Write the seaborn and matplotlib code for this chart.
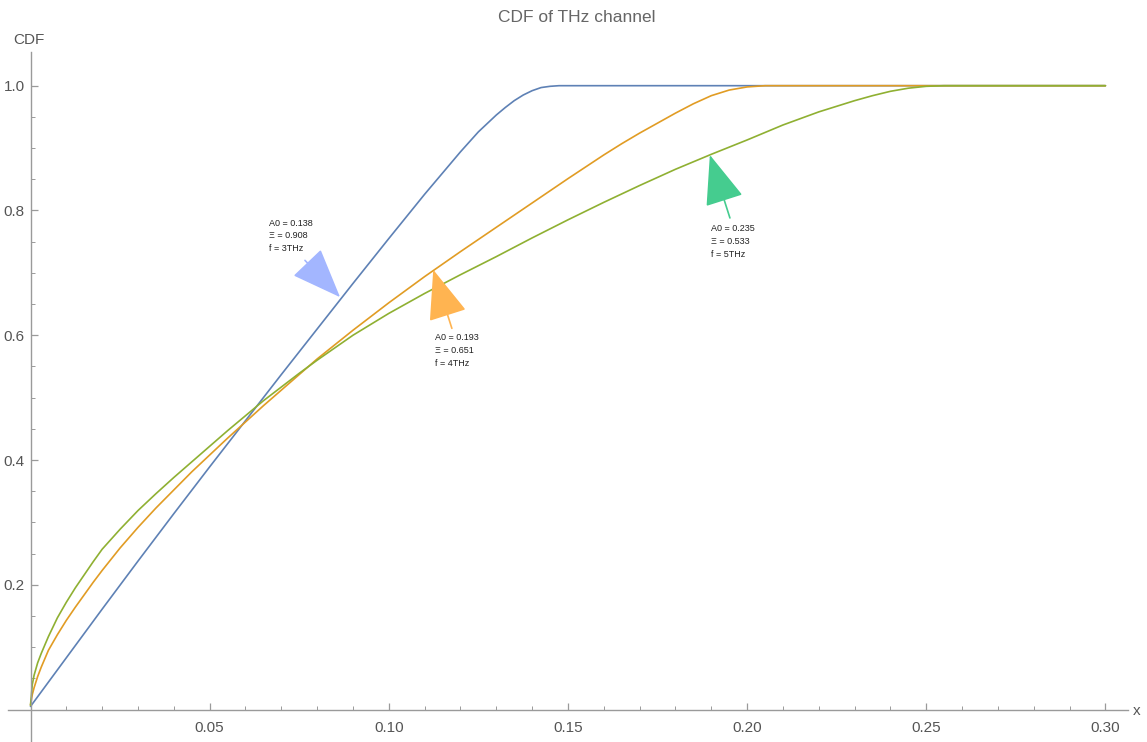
import pandas as pd
import seaborn as sns
import matplotlib.pyplot as plt

# CDF curves
x_3thz = [0, 0.01, 0.02, 0.03, 0.04, 0.05, 0.06, 0.07, 0.08, 0.09, 0.10, 0.11,
          0.12, 0.125, 0.13, 0.1325, 0.135, 0.1375, 0.14, 0.1425, 0.145, 0.1475, 0.30]
cdf_3thz = [0.005, 0.083, 0.161, 0.238, 0.314, 0.389, 0.463, 0.537, 0.61, 0.683,
            0.755, 0.826, 0.894, 0.926, 0.953, 0.965, 0.976, 0.985, 0.992, 0.997,
            0.999, 1.0, 1.0]

x_4thz = [0, 0.0005, 0.001, 0.002, 0.003, 0.005, 0.0075, 0.01, 0.0125, 0.015, 0.0175,
          0.02, 0.025, 0.03, 0.035, 0.04, 0.045, 0.05, 0.055, 0.06, 0.065, 0.07,
          0.075, 0.08, 0.09, 0.10, 0.11, 0.12, 0.13, 0.14, 0.15, 0.16, 0.165, 0.17,
          0.175, 0.18, 0.185, 0.19, 0.195, 0.20, 0.205, 0.30]
cdf_4thz = [0.007, 0.024, 0.035, 0.053, 0.068, 0.095, 0.12, 0.143, 0.164, 0.184,
            0.204, 0.223, 0.259, 0.292, 0.323, 0.352, 0.381, 0.408, 0.435, 0.461,
            0.487, 0.512, 0.537, 0.562, 0.608, 0.652, 0.694, 0.734, 0.773, 0.812,
            0.851, 0.889, 0.907, 0.924, 0.94, 0.956, 0.971, 0.984, 0.993, 0.998,
            1.0, 1.0]

x_5thz = [0, 0.0005, 0.001, 0.002, 0.003, 0.005, 0.0075, 0.01, 0.0125, 0.015, 0.0175,
          0.02, 0.025, 0.03, 0.035, 0.04, 0.045, 0.05, 0.055, 0.06, 0.065, 0.07,
          0.075, 0.08, 0.09, 0.10, 0.11, 0.12, 0.13, 0.14, 0.15, 0.16, 0.17, 0.18,
          0.19, 0.20, 0.21, 0.22, 0.23, 0.235, 0.24, 0.245, 0.25, 0.255, 0.30]
cdf_5thz = [0.007, 0.04, 0.055, 0.075, 0.09, 0.117, 0.147, 0.172, 0.195, 0.216,
            0.237, 0.257, 0.289, 0.319, 0.346, 0.372, 0.397, 0.422, 0.447, 0.471,
            0.495, 0.517, 0.539, 0.56, 0.6, 0.635, 0.667, 0.697, 0.726, 0.756,
            0.785, 0.813, 0.84, 0.866, 0.89, 0.913, 0.937, 0.958, 0.976, 0.984,
            0.991, 0.996, 0.999, 1.0, 1.0]

labels = ['3THz', '4THz', '5THz']
line_colors = ['#5E81B5', '#E19C24', '#8FB032']
arrow_colors = ['#A3B6FF', '#FFB451', '#45CC8F']
notes = ['A0 = 0.138\nΞ = 0.908\nf = 3THz',
         'A0 = 0.193\nΞ = 0.651\nf = 4THz',
         'A0 = 0.235\nΞ = 0.533\nf = 5THz']
# arrow tip on the curve, arrow tail, text anchor (upper left)
arrow_tips = [(0.0864, 0.661), (0.1124, 0.705), (0.1896, 0.889)]
arrow_tails = [(0.0766, 0.720), (0.1176, 0.611), (0.1952, 0.788)]
text_pos = [(0.0665, 0.787), (0.1130, 0.603), (0.1900, 0.778)]

df = pd.concat([
    pd.DataFrame({'x': xs, 'cdf': ys, 'f': lab})
    for xs, ys, lab in zip([x_3thz, x_4thz, x_5thz],
                           [cdf_3thz, cdf_4thz, cdf_5thz], labels)
])

sns.set_style('white')
plt.rcParams['font.family'] = ['Liberation Sans', 'DejaVu Sans']

fig = plt.figure(figsize=(11.47, 7.42), dpi=100)
ax = fig.add_axes([8 / 1147, 0, 1120 / 1147, 690 / 742])

sns.lineplot(data=df, x='x', y='cdf', hue='f', palette=line_colors,
             legend=False, lw=1.2, ax=ax)

for tip, tail, pos, txt, c in zip(arrow_tips, arrow_tails, text_pos, notes, arrow_colors):
    ax.annotate('', xy=tip, xytext=tail,
                arrowprops=dict(arrowstyle='-|>,head_length=3.2,head_width=1.25',
                                mutation_scale=10, color=c, lw=1.2,
                                shrinkA=0, shrinkB=0))
    ax.text(pos[0], pos[1], txt, fontsize=6.5, color='#222222',
            va='top', ha='left', linespacing=1.55)

ax.set_xlim(-0.00628, 0.3063)
ax.set_ylim(-0.052, 1.054)

# Mathematica-like axes through the origin
for side in ['top', 'right']:
    ax.spines[side].set_visible(False)
ax.spines['left'].set_position(('data', 0))
ax.spines['bottom'].set_position(('data', 0))
for side in ['left', 'bottom']:
    ax.spines[side].set_color('#9a9a9a')
    ax.spines[side].set_linewidth(1.0)

ax.set_xticks([0.05, 0.10, 0.15, 0.20, 0.25, 0.30])
ax.set_xticklabels(['0.05', '0.10', '0.15', '0.20', '0.25', '0.30'])
ax.set_xticks([i / 100 for i in range(1, 31) if i % 5], minor=True)
ax.set_yticks([0.2, 0.4, 0.6, 0.8, 1.0])
ax.set_yticklabels(['0.2', '0.4', '0.6', '0.8', '1.0'])
ax.set_yticks([i / 20 for i in range(1, 21) if i % 4], minor=True)
ax.tick_params(which='both', direction='in', colors='#9a9a9a',
               labelcolor='#555555', labelsize=11, bottom=True, left=True)
ax.tick_params(which='major', length=5, width=0.9)
ax.tick_params(which='minor', length=3, width=0.7)
ax.tick_params(axis='x', pad=8)
ax.tick_params(axis='y', pad=4)
ax.set_xlabel('')
ax.set_ylabel('')

fig.text(13 / 1147, 1 - 40 / 742, 'CDF', fontsize=11, color='#555555',
         ha='left', va='center')
fig.text(1133 / 1147, 1 - 711 / 742, 'x', fontsize=11, color='#555555',
         ha='left', va='center')
fig.text(577 / 1147, 1 - 18 / 742, 'CDF of THz channel', fontsize=12.5,
         color='#666666', ha='center', va='center')

fig.savefig('out.png', dpi=100)
